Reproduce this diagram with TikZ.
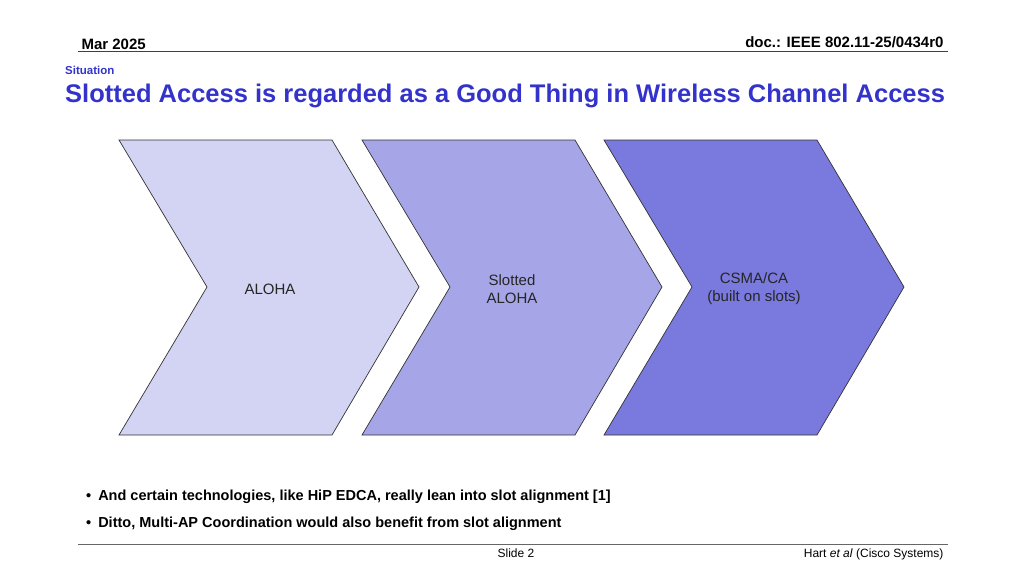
\documentclass[tikz,border=0pt]{standalone}
\usepackage{fontspec}
\setmainfont{Liberation Sans}
\definecolor{ttl}{HTML}{3333CC}
\definecolor{cA}{HTML}{D3D3F4}
\definecolor{cB}{HTML}{A5A5E8}
\definecolor{cC}{HTML}{7979DE}
\begin{document}
\begin{tikzpicture}[x=1pt,y=-1pt,
  chev/.style={draw=black!80,line width=0.7pt},
  lbl/.style={font=\fontsize{15}{18}\selectfont,align=center,text=black!85}]
\useasboundingbox (0,0) rectangle (1024,576);
\node[anchor=base west,font=\fontsize{15}{18}\selectfont\bfseries] (date) at (78,49) {Mar 2025};
\node[anchor=base east,font=\fontsize{15}{18}\selectfont\bfseries] (doc) at (947,47) {doc.: IEEE 802.11-25/0434r0};
\draw[line width=0.8pt,black!75] (78,51) -- (948,51);
\node[anchor=base west,font=\fontsize{11.5}{13}\selectfont\bfseries,text=ttl,inner sep=0] (sit) at (65,74) {Situation};
\node[anchor=base west,font=\fontsize{25.5}{30}\selectfont\bfseries,text=ttl,inner sep=0] (title) at (65,102) {Slotted Access is regarded as a Good Thing in Wireless Channel Access};
\foreach \dx/\c in {0/cA,243/cB,485/cC}{
  \fill[\c,chev] (119+\dx,140) -- (332+\dx,140) -- (419+\dx,287) -- (332+\dx,435) -- (119+\dx,435) -- (207+\dx,287) -- cycle;
}
\node[lbl] (a) at (270,289) {ALOHA};
\node[lbl] (b) at (512,289) {Slotted\\ALOHA};
\node[lbl] (c) at (754,289) {CSMA/CA\\(built on slots)};
\node[anchor=base west,font=\fontsize{14.5}{18}\selectfont\bfseries,inner sep=0] (b1) at (86,500) {•\hspace{7pt}And certain technologies, like HiP EDCA, really lean into slot alignment [1]};
\node[anchor=base west,font=\fontsize{14.5}{18}\selectfont\bfseries,inner sep=0] (b2) at (86,527) {•\hspace{7pt}Ditto, Multi-AP Coordination would also benefit from slot alignment};
\draw[line width=0.8pt,black!60] (78,544) -- (948,544);
\node[anchor=base,font=\fontsize{12}{14}\selectfont] (sl) at (516,557) {Slide 2};
\node[anchor=base east,font=\fontsize{12}{14}\selectfont] (au) at (947,557) {Hart \textit{et al} (Cisco Systems)};
\end{tikzpicture}
\end{document}
